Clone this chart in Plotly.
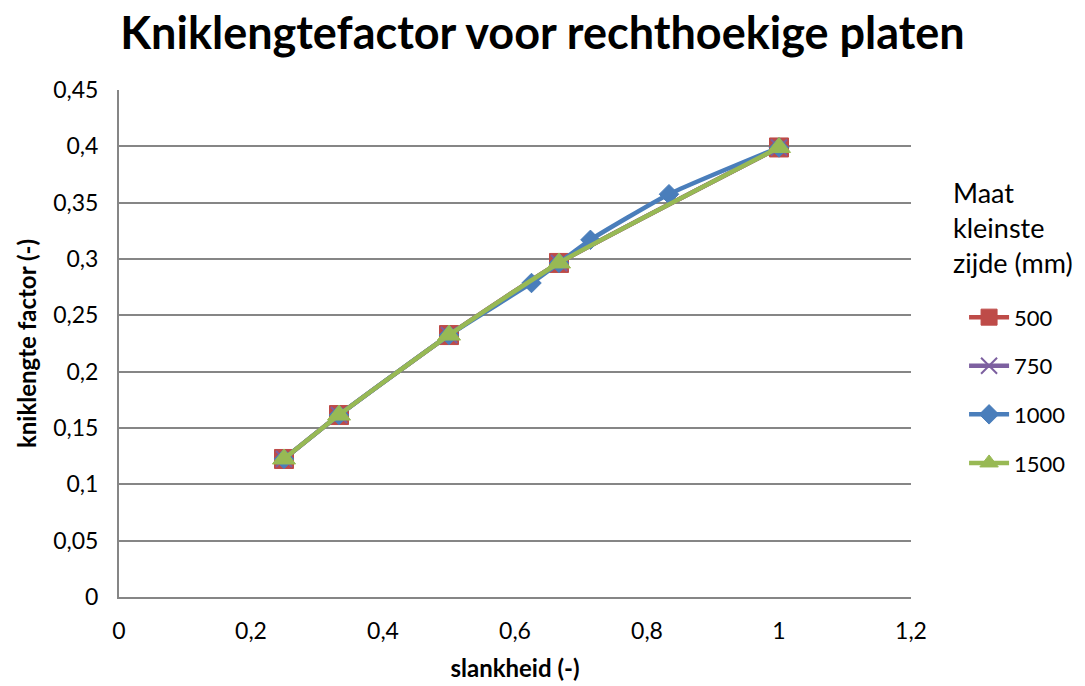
import plotly.graph_objects as go

# Slenderness ratios (shortest side / longest side) and buckling length factors
slank_std = [0.25, 1/3, 0.5, 2/3, 1.0]
factor_500 = [0.1225, 0.1615, 0.2325, 0.2965, 0.3990]
factor_750 = [0.1225, 0.1615, 0.2325, 0.2965, 0.3990]
factor_1500 = [0.1225, 0.1615, 0.2325, 0.2965, 0.3990]

slank_1000 = [0.25, 1/3, 0.5, 0.625, 2/3, 0.7143, 0.8333, 1.0]
factor_1000 = [0.1225, 0.1615, 0.2325, 0.2787, 0.2965, 0.3170, 0.3575, 0.3990]

series_names = ["500", "750", "1000", "1500"]

x_ticks = [0, 0.2, 0.4, 0.6, 0.8, 1.0, 1.2]
x_ticklabels = ["0", "0,2", "0,4", "0,6", "0,8", "1", "1,2"]
y_ticks = [0, 0.05, 0.1, 0.15, 0.2, 0.25, 0.3, 0.35, 0.4, 0.45]
y_ticklabels = ["0", "0,05", "0,1", "0,15", "0,2", "0,25", "0,3", "0,35", "0,4", "0,45"]

FONT = "Lato"
GRID = "#868686"

styles = {
    "500": dict(color="#BE4B48", symbol="square", size=19),
    "750": dict(color="#7D60A0", symbol="x-thin", size=16),
    "1000": dict(color="#4A7EBB", symbol="diamond", size=15),
    "1500": dict(color="#98B954", symbol="triangle-up", size=20),
}
data = {
    "500": (slank_std, factor_500),
    "750": (slank_std, factor_750),
    "1000": (slank_1000, factor_1000),
    "1500": (slank_std, factor_1500),
}

fig = go.Figure()
for name in series_names:
    xs, ys = data[name]
    st = styles[name]
    marker = dict(symbol=st["symbol"], size=st["size"], color=st["color"])
    if st["symbol"] == "x-thin":
        marker["line"] = dict(color=st["color"], width=2)
    else:
        marker["line"] = dict(color=st["color"], width=1)
    fig.add_trace(go.Scatter(
        x=xs, y=ys, name=name, mode="lines+markers",
        line=dict(color=st["color"], width=4.5, shape="spline", smoothing=0.5),
        marker=marker, legendgroup=name,
    ))

# Legend heading, placed as free text above the legend entries
fig.add_annotation(
    text="Maat<br>kleinste<br>zijde (mm)",
    xref="paper", yref="paper", x=1.05, y=0.835,
    xanchor="left", yanchor="top", align="left", showarrow=False,
    font=dict(family=FONT, size=27, color="black"),
)

fig.update_layout(
    width=1085, height=686,
    paper_bgcolor="white", plot_bgcolor="white",
    margin=dict(l=119, r=174, t=90, b=89),
    font=dict(family=FONT, color="black"),
    title=dict(
        text="<b>Kniklengtefactor voor rechthoekige platen</b>",
        x=0.5, xanchor="center", xref="container",
        y=0.952, yanchor="middle",
        font=dict(family=FONT, size=45, color="black"),
    ),
    showlegend=True,
    legend=dict(
        x=1.067, xanchor="left", y=0.593, yanchor="top",
        font=dict(family=FONT, size=22, color="black"),
        tracegroupgap=17, itemwidth=40,
        bgcolor="rgba(0,0,0,0)",
    ),
    xaxis=dict(
        range=[0, 1.2], tickvals=x_ticks, ticktext=x_ticklabels,
        showgrid=False, zeroline=False, automargin=False,
        showline=True, linecolor=GRID, linewidth=2,
        ticks="", tickfont=dict(family=FONT, size=23),
        ticklabelstandoff=12,
        title=dict(text="<b>slankheid (-)</b>", font=dict(family=FONT, size=24), standoff=18),
    ),
    yaxis=dict(
        range=[0, 0.45], tickvals=y_ticks, ticktext=y_ticklabels,
        showgrid=True, gridcolor=GRID, gridwidth=2, zeroline=False, automargin=False,
        showline=True, linecolor=GRID, linewidth=2,
        ticks="", tickfont=dict(family=FONT, size=23),
        ticklabelstandoff=14,
        title=dict(text="<b>kniklengte factor (-)</b>", font=dict(family=FONT, size=24), standoff=10),
    ),
)

fig.write_html("out.html")
